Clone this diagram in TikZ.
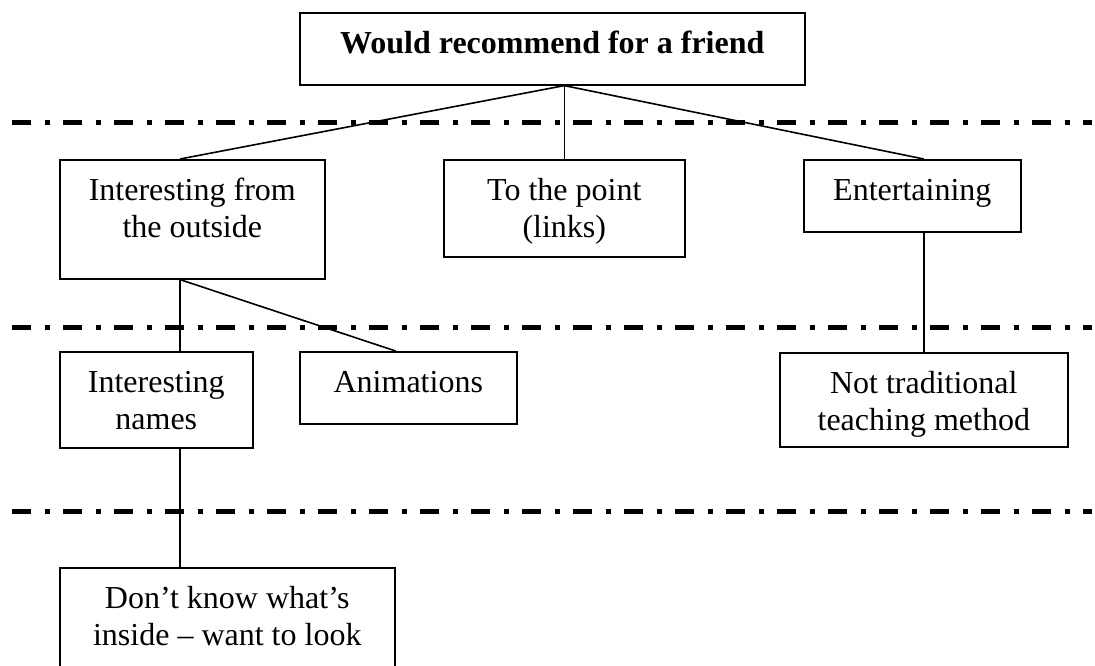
\documentclass[tikz,border=0pt]{standalone}
\usepackage{fontspec}
\setmainfont{Liberation Serif}
\usetikzlibrary{calc}
% box contents: width, height, text (top aligned, first baseline 41pt below the top edge)
\newcommand{\cellbox}[3]{\parbox[t][#2pt][t]{#1pt}{\centering\rule{0pt}{41pt}#3}}
\begin{document}
\begin{tikzpicture}[x=1pt,y=-1pt,
  box/.style={draw, line width=1.6pt, inner sep=0pt, anchor=north west,
              font=\fontsize{32}{36.5}\selectfont},
  link/.style={line width=1.6pt},
  level/.style={line width=5pt, dash pattern=on 19pt off 13.5pt on 5pt off 13.5pt}]
\clip (0,0) rectangle (1095,666);

% level separators
\draw[level] (12,123) -- (1092,123);
\draw[level] (12,327) -- (1092,327);
\draw[level] (12,511) -- (1092,511);

% boxes
\node[box] (top)     at (299,12)  {\cellbox{505}{72}{\textbf{Would recommend for a friend}}};
\node[box] (outside) at (59,159)  {\cellbox{265}{119}{Interesting from\\the outside}};
\node[box] (point)   at (443,159) {\cellbox{241}{97}{To the point\\(links)}};
\node[box] (ent)     at (803,159) {\cellbox{217}{72}{Entertaining}};
\node[box] (names)   at (59,351)  {\cellbox{193}{96}{Interesting\\names}};
\node[box] (anim)    at (299,351) {\cellbox{217}{72}{Animations}};
\node[box] (trad)    at (779,352) {\cellbox{288}{94}{Not traditional\\teaching method}};
\node[box] (inside)  at (59,567)  {\cellbox{335}{120}{Don’t know what’s\\inside – want to look}};

% vertical spine of the left branch
\coordinate (stem) at (180,0);

% connectors
\draw[link] (top.south -| point.north) -- (outside.north -| stem);
\draw[link] (top.south -| point.north) -- (point.north);
\draw[link] (top.south -| point.north) -- (ent.north -| trad.north);
\draw[link] (outside.south -| stem) -- (names.north -| stem);
\draw[link] (outside.south -| stem) -- ($(anim.north west)!0.442!(anim.north east)$);
\draw[link] (ent.south -| trad.north) -- (trad.north);
\draw[link] (names.south -| stem) -- (inside.north -| stem);
\end{tikzpicture}
\end{document}
